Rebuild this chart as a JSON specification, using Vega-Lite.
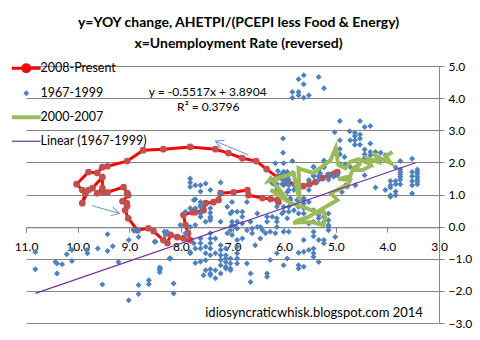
{
  "$schema": "https://vega.github.io/schema/vega-lite/v6.json",
  "width": 413,
  "height": 257,
  "autosize": {"type": "none"},
  "padding": {"left": 26, "top": 66, "right": 41, "bottom": 17},
  "background": "white",
  "title": {
    "text": ["y=YOY change, AHETPI/(PCEPI less Food & Energy)", "x=Unemployment Rate (reversed)"],
    "font": "Lato", "fontSize": 14, "fontWeight": "bold", "color": "black",
    "anchor": "middle", "frame": "group", "offset": 9, "dx": 6, "lineHeight": 21
  },
  "config": {
    "view": {"stroke": null},
    "font": "Lato",
    "axis": {
      "domainColor": "#868686", "tickColor": "#868686", "gridColor": "#868686", "gridOpacity": 1,
      "labelFont": "Lato", "labelFontSize": 12, "labelColor": "black", "tickSize": 5,
      "labelPadding": 4, "labelFlush": false, "labelBound": false, "labelOverlap": false
    }
  },
  "datasets": {
    "red": [
      {"i":1,"u":4.97,"w":1.70,"s":"2008-Present"},{"i":2,"u":5.04,"w":1.64,"s":"2008-Present"},{"i":3,"u":5.14,"w":1.60,"s":"2008-Present"},{"i":4,"u":5.26,"w":1.51,"s":"2008-Present"},{"i":5,"u":5.39,"w":1.39,"s":"2008-Present"},{"i":6,"u":5.51,"w":1.32,"s":"2008-Present"},{"i":7,"u":5.63,"w":1.26,"s":"2008-Present"},{"i":8,"u":5.78,"w":1.32,"s":"2008-Present"},{"i":9,"u":5.94,"w":1.39,"s":"2008-Present"},{"i":10,"u":6.13,"w":1.54,"s":"2008-Present"},
      {"i":11,"u":6.34,"w":1.79,"s":"2008-Present"},{"i":12,"u":6.54,"w":2.04,"s":"2008-Present"},{"i":13,"u":6.81,"w":2.13,"s":"2008-Present"},{"i":14,"u":7.08,"w":2.29,"s":"2008-Present"},{"i":15,"u":7.33,"w":2.41,"s":"2008-Present"},{"i":16,"u":7.82,"w":2.48,"s":"2008-Present"},{"i":17,"u":8.34,"w":2.41,"s":"2008-Present"},{"i":18,"u":8.73,"w":2.38,"s":"2008-Present"},{"i":19,"u":9.04,"w":2.04,"s":"2008-Present"},{"i":20,"u":9.42,"w":1.88,"s":"2008-Present"},
      {"i":21,"u":9.52,"w":1.85,"s":"2008-Present"},{"i":22,"u":9.62,"w":1.67,"s":"2008-Present"},{"i":23,"u":9.79,"w":1.70,"s":"2008-Present"},{"i":24,"u":10.02,"w":1.32,"s":"2008-Present"},{"i":25,"u":9.91,"w":1.14,"s":"2008-Present"},{"i":26,"u":9.85,"w":1.04,"s":"2008-Present"},{"i":27,"u":9.91,"w":0.73,"s":"2008-Present"},{"i":28,"u":9.79,"w":1.14,"s":"2008-Present"},{"i":29,"u":9.71,"w":1.20,"s":"2008-Present"},{"i":30,"u":9.52,"w":1.54,"s":"2008-Present"},
      {"i":31,"u":9.52,"w":1.20,"s":"2008-Present"},{"i":32,"u":9.62,"w":1.04,"s":"2008-Present"},{"i":33,"u":9.50,"w":1.07,"s":"2008-Present"},{"i":34,"u":9.42,"w":1.07,"s":"2008-Present"},{"i":35,"u":9.11,"w":1.23,"s":"2008-Present"},{"i":36,"u":9.04,"w":1.04,"s":"2008-Present"},{"i":37,"u":9.02,"w":0.98,"s":"2008-Present"},{"i":38,"u":9.13,"w":0.79,"s":"2008-Present"},{"i":39,"u":9.05,"w":0.73,"s":"2008-Present"},{"i":40,"u":9.04,"w":0.64,"s":"2008-Present"},
      {"i":41,"u":9.08,"w":0.51,"s":"2008-Present"},{"i":42,"u":9.02,"w":0.26,"s":"2008-Present"},{"i":43,"u":8.84,"w":-0.11,"s":"2008-Present"},{"i":44,"u":8.63,"w":-0.05,"s":"2008-Present"},{"i":45,"u":8.53,"w":-0.14,"s":"2008-Present"},{"i":46,"u":8.34,"w":-0.42,"s":"2008-Present"},{"i":47,"u":8.26,"w":-0.51,"s":"2008-Present"},{"i":48,"u":8.20,"w":-0.26,"s":"2008-Present"},{"i":49,"u":8.07,"w":-0.33,"s":"2008-Present"},{"i":50,"u":7.95,"w":-0.36,"s":"2008-Present"},
      {"i":51,"u":7.82,"w":-0.42,"s":"2008-Present"},{"i":52,"u":7.86,"w":-0.20,"s":"2008-Present"},{"i":53,"u":7.91,"w":0.05,"s":"2008-Present"},{"i":54,"u":7.95,"w":0.36,"s":"2008-Present"},{"i":55,"u":7.77,"w":0.45,"s":"2008-Present"},{"i":56,"u":7.72,"w":0.45,"s":"2008-Present"},{"i":57,"u":7.56,"w":0.51,"s":"2008-Present"},{"i":58,"u":7.52,"w":0.73,"s":"2008-Present"},{"i":59,"u":7.37,"w":0.76,"s":"2008-Present"},{"i":60,"u":7.27,"w":0.83,"s":"2008-Present"},
      {"i":61,"u":7.23,"w":1.04,"s":"2008-Present"},{"i":62,"u":6.98,"w":1.07,"s":"2008-Present"},{"i":63,"u":6.71,"w":1.14,"s":"2008-Present"},{"i":64,"u":6.69,"w":0.98,"s":"2008-Present"},{"i":65,"u":6.42,"w":0.89,"s":"2008-Present"},{"i":66,"u":6.26,"w":0.86,"s":"2008-Present"},{"i":67,"u":6.13,"w":0.83,"s":"2008-Present"},{"i":68,"u":6.11,"w":0.76,"s":"2008-Present"}
    ],
    "green": [
      {"i":1,"u":3.90,"w":2.32},{"i":2,"u":4.03,"w":2.20},{"i":3,"u":3.94,"w":1.98},{"i":4,"u":4.13,"w":2.13},{"i":5,"u":4.23,"w":2.23},{"i":6,"u":4.17,"w":2.01},{"i":7,"u":4.39,"w":2.13},{"i":8,"u":4.33,"w":1.95},{"i":9,"u":4.56,"w":2.10},{"i":10,"u":4.72,"w":2.01},
      {"i":11,"u":4.81,"w":1.82},{"i":12,"u":4.95,"w":1.92},{"i":13,"u":5.00,"w":2.45},{"i":14,"u":5.10,"w":2.07},{"i":15,"u":5.43,"w":1.67},{"i":16,"u":5.68,"w":1.79},{"i":17,"u":5.72,"w":1.82},{"i":18,"u":5.70,"w":0.83},{"i":19,"u":5.82,"w":1.67},{"i":20,"u":6.30,"w":1.42},
      {"i":21,"u":6.26,"w":1.51},{"i":22,"u":6.01,"w":0.98},{"i":23,"u":6.26,"w":1.14},{"i":24,"u":5.87,"w":0.73},{"i":25,"u":5.62,"w":0.61},{"i":26,"u":5.35,"w":0.42},{"i":27,"u":5.24,"w":0.51},{"i":28,"u":5.20,"w":0.26},{"i":29,"u":5.24,"w":0.05},{"i":30,"u":5.45,"w":0.14},
      {"i":31,"u":5.64,"w":0.14},{"i":32,"u":5.82,"w":0.11},{"i":33,"u":5.72,"w":0.20},{"i":34,"u":5.53,"w":0.30},{"i":35,"u":4.97,"w":0.83},{"i":36,"u":5.10,"w":1.04},{"i":37,"u":4.77,"w":1.29},{"i":38,"u":4.72,"w":1.45},{"i":39,"u":4.95,"w":1.48},{"i":40,"u":4.72,"w":1.57},
      {"i":41,"u":4.66,"w":1.82},{"i":42,"u":4.52,"w":1.98},{"i":43,"u":4.62,"w":1.76},{"i":44,"u":4.48,"w":1.76},{"i":45,"u":4.29,"w":1.92}
    ],
    "blue": [
      {"u":5.84,"w":4.19},{"u":5.84,"w":4.01},{"u":5.72,"w":4.19},{"u":5.72,"w":4.09},{"u":5.72,"w":4.59},{"u":5.62,"w":4.71},{"u":5.62,"w":4.43},{"u":5.62,"w":4.01},{"u":5.52,"w":4.09},{"u":5.33,"w":4.66},{"u":5.23,"w":4.31},
      {"u":4.92,"w":3.29},{"u":4.53,"w":3.29},{"u":4.44,"w":3.10},{"u":4.33,"w":3.13},{"u":5.02,"w":2.94},{"u":4.73,"w":2.97},{"u":4.63,"w":2.92},{"u":4.53,"w":2.87},{"u":4.63,"w":2.82},{"u":4.53,"w":2.74},{"u":4.72,"w":2.69},{"u":4.63,"w":2.69},{"u":4.63,"w":2.55},{"u":4.53,"w":2.55},{"u":4.92,"w":2.69},{"u":4.33,"w":2.59},{"u":4.92,"w":2.42},{"u":4.44,"w":2.40},{"u":6.02,"w":2.74},{"u":6.02,"w":2.30},{"u":5.02,"w":2.30},{"u":4.83,"w":2.17},{"u":4.44,"w":2.25},{"u":4.44,"w":2.14},{"u":4.33,"w":2.32},{"u":4.23,"w":2.32},{"u":4.13,"w":2.30},{"u":4.33,"w":2.22},{"u":4.23,"w":2.22},{"u":4.04,"w":2.22},{"u":4.13,"w":2.09},{"u":3.52,"w":2.11},{"u":3.75,"w":2.04},{"u":4.92,"w":2.25},{"u":4.81,"w":1.94},{"u":4.92,"w":1.94},{"u":5.23,"w":2.06},{"u":5.84,"w":2.04},{"u":5.43,"w":1.85},{"u":5.33,"w":1.76},{"u":5.23,"w":1.85},{"u":3.84,"w":1.85},{"u":3.75,"w":1.78},{"u":3.75,"w":1.63},{"u":3.75,"w":1.47},{"u":3.75,"w":1.32},{"u":3.52,"w":1.70},{"u":3.52,"w":1.57},{"u":3.52,"w":1.42},{"u":3.42,"w":1.78},{"u":3.42,"w":1.63},{"u":3.42,"w":1.47},{"u":3.42,"w":1.32},{"u":3.94,"w":1.42},{"u":3.84,"w":1.42},{"u":3.84,"w":1.32},{"u":6.12,"w":1.73},{"u":6.02,"w":1.66},{"u":5.93,"w":1.66},{"u":5.93,"w":1.49},{"u":5.93,"w":1.37},{"u":6.02,"w":1.47},{"u":5.83,"w":1.66},{"u":5.43,"w":1.57},{"u":5.14,"w":1.63},{"u":5.14,"w":1.47},{"u":5.33,"w":1.57},
      {"u":3.52,"w":1.29},{"u":3.52,"w":1.03},{"u":3.42,"w":1.70},{"u":3.42,"w":1.55},{"u":3.42,"w":1.40},{"u":3.75,"w":1.70},{"u":3.75,"w":1.55},{"u":3.84,"w":1.09},{"u":3.84,"w":0.98},{"u":3.94,"w":0.93},{"u":4.04,"w":1.14},{"u":4.23,"w":1.22},{"u":4.44,"w":1.60},{"u":4.62,"w":1.29},{"u":4.81,"w":1.29},{"u":3.94,"w":1.29},{"u":3.94,"w":1.22},
      {"u":6.17,"w":1.97},{"u":6.01,"w":1.97},{"u":6.01,"w":1.71},{"u":6.07,"w":1.60},{"u":5.91,"w":1.60},{"u":6.01,"w":1.45},{"u":5.91,"w":1.45},{"u":6.01,"w":1.29},{"u":5.91,"w":1.29},{"u":5.81,"w":1.29},{"u":5.91,"w":1.14},{"u":5.81,"w":1.14},{"u":6.14,"w":1.14},{"u":6.27,"w":1.45},{"u":6.17,"w":1.29},{"u":5.43,"w":1.86},{"u":5.30,"w":1.66},{"u":5.23,"w":1.86},{"u":5.43,"w":1.60},{"u":5.52,"w":1.45},{"u":5.33,"w":1.45},{"u":5.04,"w":1.55},{"u":4.97,"w":1.60},{"u":4.72,"w":1.86},{"u":5.52,"w":1.14},{"u":4.78,"w":1.24},{"u":4.88,"w":1.08},{"u":5.88,"w":0.88},{"u":5.75,"w":0.83},{"u":5.62,"w":0.88},{"u":5.62,"w":0.72},{"u":5.72,"w":0.62},{"u":5.62,"w":0.57},{"u":5.81,"w":0.51},{"u":5.91,"w":0.62},{"u":6.01,"w":0.62},{"u":6.14,"w":0.62},{"u":6.01,"w":0.46},{"u":5.91,"w":0.46},{"u":5.72,"w":0.41},{"u":5.62,"w":0.41},{"u":5.43,"w":0.51},{"u":5.33,"w":0.36},{"u":5.33,"w":0.26},{"u":5.33,"w":0.10},{"u":5.23,"w":0.31},{"u":5.14,"w":0.41},{"u":5.14,"w":0.20},{"u":5.14,"w":0.05},{"u":5.23,"w":0.15},{"u":5.52,"w":0.10},{"u":5.43,"w":-0.16},{"u":5.43,"w":-0.30},{"u":5.33,"w":-0.42},{"u":5.23,"w":-0.42},{"u":5.23,"w":-0.52},{"u":5.43,"w":-0.68},{"u":5.43,"w":-0.83},{"u":5.43,"w":-0.94},{"u":5.52,"w":-0.73},{"u":5.62,"w":-0.78},{"u":5.72,"w":-0.81},{"u":5.33,"w":-1.10},{"u":5.62,"w":-0.42},{"u":5.94,"w":-0.99},{"u":6.14,"w":-0.83},{"u":6.01,"w":-1.20},{"u":5.72,"w":-1.20},{"u":5.72,"w":-1.30},{"u":5.62,"w":-1.25},{"u":6.01,"w":-0.16},{"u":5.91,"w":-0.16},{"u":6.27,"w":-0.16},{"u":5.43,"w":0.15},
      {"u":5.14,"w":-0.11},{"u":5.14,"w":-0.01},{"u":5.01,"w":-0.32},{"u":3.94,"w":0.98},{"u":6.14,"w":1.33},{"u":6.04,"w":1.33},{"u":5.94,"w":1.71},{"u":5.94,"w":1.08},{"u":5.84,"w":1.66},{"u":6.14,"w":1.08},{"u":6.23,"w":1.35},{"u":5.88,"w":0.83},{"u":5.72,"w":0.83},{"u":5.62,"w":0.83},{"u":5.52,"w":0.77},
      {"u":7.82,"w":1.50},{"u":7.82,"w":1.37},{"u":7.82,"w":1.24},{"u":7.72,"w":1.29},{"u":7.62,"w":1.29},{"u":7.52,"w":1.34},{"u":7.23,"w":1.37},{"u":7.43,"w":1.14},{"u":7.72,"w":0.85},{"u":7.62,"w":0.62},{"u":7.82,"w":0.57},{"u":7.43,"w":0.43},{"u":7.62,"w":0.31},{"u":7.43,"w":0.31},{"u":7.52,"w":0.15},{"u":7.23,"w":0.15},{"u":7.10,"w":0.62},{"u":7.01,"w":0.77},{"u":7.01,"w":0.46},{"u":6.91,"w":0.46},{"u":6.81,"w":0.46},{"u":6.81,"w":0.31},{"u":7.01,"w":0.15},{"u":6.91,"w":0.15},{"u":6.72,"w":0.77},{"u":6.65,"w":0.15},{"u":6.52,"w":0.41},{"u":6.52,"w":-0.01},{"u":6.62,"w":-0.06},{"u":6.33,"w":0.31},{"u":6.33,"w":0.15},{"u":6.23,"w":0.31},{"u":6.14,"w":0.26},{"u":6.14,"w":0.15},{"u":6.04,"w":0.41},{"u":5.94,"w":0.26},{"u":6.81,"w":0.10},{"u":6.42,"w":-0.11},{"u":7.72,"w":0.05},{"u":7.43,"w":0.20},{"u":7.62,"w":1.09},{"u":7.62,"w":0.77},{"u":7.23,"w":1.03},
      {"u":7.82,"w":-0.01},{"u":7.62,"w":-0.37},{"u":7.75,"w":-0.52},{"u":7.82,"w":-0.83},{"u":7.62,"w":-0.68},{"u":7.52,"w":-0.83},{"u":7.43,"w":-0.21},{"u":7.43,"w":-0.37},{"u":7.43,"w":-0.52},{"u":7.33,"w":-0.37},{"u":7.43,"w":-0.68},{"u":7.33,"w":-0.83},{"u":7.23,"w":-0.58},{"u":7.23,"w":-0.73},{"u":7.23,"w":-0.89},{"u":7.23,"w":-1.04},{"u":7.13,"w":-0.68},{"u":7.13,"w":-0.99},{"u":7.13,"w":-1.10},{"u":7.04,"w":-1.15},{"u":7.04,"w":-1.30},{"u":7.13,"w":-1.30},{"u":7.23,"w":-1.46},{"u":7.43,"w":-1.33},{"u":7.43,"w":-1.46},{"u":7.56,"w":-1.51},{"u":6.91,"w":-1.15},{"u":6.91,"w":-0.99},{"u":6.91,"w":-0.83},{"u":6.91,"w":-0.63},{"u":6.91,"w":-0.42},{"u":7.01,"w":-0.26},{"u":7.10,"w":-0.21},{"u":6.72,"w":-1.15},{"u":6.65,"w":-1.46},{"u":6.65,"w":-1.72},{"u":6.91,"w":-0.06},{"u":7.01,"w":0.05},{"u":6.81,"w":-0.37},{"u":6.62,"w":-0.21},{"u":6.56,"w":-0.58},{"u":6.46,"w":-0.37},{"u":6.36,"w":-0.21},{"u":6.33,"w":-1.46},{"u":6.33,"w":-1.56},{"u":6.27,"w":-1.04},{"u":6.17,"w":-0.21},{"u":6.14,"w":-0.01},{"u":8.14,"w":-1.77},{"u":8.14,"w":-2.08},{"u":8.20,"w":-0.99},{"u":8.40,"w":-1.30},{"u":6.72,"w":-0.11},{"u":6.46,"w":-0.01},
      {"u":10.82,"w":-0.79},{"u":10.82,"w":-1.33},{"u":10.43,"w":-1.10},{"u":10.40,"w":-1.15},{"u":10.30,"w":-1.17},{"u":10.40,"w":-1.46},{"u":10.21,"w":-0.86},{"u":10.11,"w":-0.73},{"u":10.11,"w":-1.07},{"u":9.82,"w":-0.73},{"u":9.81,"w":-0.83},{"u":9.61,"w":-0.68},{"u":9.52,"w":-1.80},{"u":9.42,"w":-0.76},{"u":9.42,"w":-0.24},{"u":9.32,"w":-0.61},{"u":9.21,"w":-1.10},{"u":9.01,"w":-2.29},{"u":8.82,"w":-1.82},{"u":8.82,"w":-2.10},{"u":8.62,"w":-1.67},{"u":8.62,"w":-1.79},{"u":8.91,"w":-0.13},{"u":8.82,"w":-0.32},{"u":8.51,"w":-0.47},{"u":8.41,"w":-1.27},{"u":8.41,"w":-1.35},{"u":8.32,"w":-0.16},{"u":8.22,"w":-0.99},{"u":8.01,"w":0.05},{"u":7.91,"w":-0.21},{"u":7.82,"w":-0.79},{"u":7.72,"w":-0.68},{"u":7.72,"w":-1.13},{"u":7.62,"w":-0.52},{"u":7.62,"w":-1.09},{"u":7.52,"w":-0.63},{"u":7.52,"w":-1.05},{"u":7.43,"w":-0.89},{"u":7.33,"w":-1.36},{"u":7.23,"w":-1.20},{"u":7.13,"w":-0.89},{"u":7.13,"w":-1.25},{"u":7.04,"w":-0.99},{"u":7.04,"w":-1.36},{"u":7.52,"w":-1.36},{"u":7.43,"w":-1.51},{"u":7.33,"w":-1.61},{"u":7.04,"w":0.41},{"u":7.43,"w":0.26},{"u":7.62,"w":0.41},{"u":7.72,"w":0.57},{"u":7.75,"w":0.83},{"u":7.62,"w":0.67},{"u":7.43,"w":0.57},{"u":7.04,"w":-0.11},{"u":6.94,"w":-0.01},{"u":7.91,"w":0.46},
      {"u":9.01,"w":-0.42},{"u":8.41,"w":-1.42},{"u":8.30,"w":-0.26},{"u":8.91,"w":-0.09},{"u":8.82,"w":-0.11},{"u":8.49,"w":-0.47},{"u":8.27,"w":-0.16}
    ],
    "trend": [{"u":10.82,"w":-2.079},{"u":3.45,"w":1.987}],
    "arrows": [{"id":1,"u":6.69,"w":2.23,"u2":7.33,"w2":2.66},{"id":2,"u":9.72,"w":0.65,"u2":9.19,"w2":0.41}],
    "heads": [{"id":1,"u":7.33,"w":2.66},{"id":2,"u":9.19,"w":0.41}],
    "eq": [{"u":7.48,"w":4.20,"t":"y = -0.5517x + 3.8904"},{"u":7.47,"w":3.71,"t":"R² = 0.3796"}],
    "mark": [{"u":5.42,"w":-2.70,"t":"idiosyncraticwhisk.blogspot.com 2014"}]
  },
  "encoding": {
    "x": {"field": "u", "type": "quantitative",
          "scale": {"domain": [3, 11], "reverse": true, "nice": false, "zero": false},
          "axis": {"title": null, "values": [3,4,5,6,7,8,9,10,11], "format": ".1f", "grid": false, "offset": -95.7, "labelPadding": 9, "labelOverlap": false}},
    "y": {"field": "w", "type": "quantitative",
          "scale": {"domain": [-3, 5], "nice": false, "zero": false},
          "axis": {"title": null, "orient": "right", "values": [-3,-2,-1,0,1,2,3,4,5], "format": ".1f", "grid": true, "labelOverlap": false}}
  },
  "layer": [
    {
      "data": {"name": "red"},
      "mark": {"type": "line", "strokeWidth": 3},
      "encoding": {
        "order": {"field": "i"},
        "color": {"field": "s", "type": "nominal",
          "scale": {"domain": ["2008-Present", "1967-1999", "2000-2007", "Linear (1967-1999)"],
                    "range": ["#FF0000", "#4F81BD", "#9BBB59", "#7030A0"]},
          "legend": {
            "title": null, "orient": "none", "legendX": -6, "legendY": -4, "padding": 0,
            "symbolSize": 576, "rowPadding": 9, "labelOffset": 8,
            "labelFont": "Lato", "labelFontSize": 12.5, "labelColor": "black",
            "encode": {"symbols": {"update": {
              "shape": {"signal": "datum.value === '1967-1999' ? 'diamond' : datum.value === '2008-Present' ? 'M-1.2,0H1.2M-0.3,0A0.3,0.3,0,1,0,0.3,0A0.3,0.3,0,1,0,-0.3,0' : 'M-1.2,0H1.2'"},
              "fill": {"signal": "datum.value === '1967-1999' ? '#4F81BD' : datum.value === '2008-Present' ? '#C0504D' : 'transparent'"},
              "stroke": {"signal": "datum.value === '1967-1999' ? 'transparent' : datum.value === '2008-Present' ? '#FF0000' : datum.value === '2000-2007' ? '#9BBB59' : '#7030A0'"},
              "strokeWidth": {"signal": "datum.value === '2008-Present' ? 3 : datum.value === '2000-2007' ? 4 : datum.value === '1967-1999' ? 0 : 1.2"},
              "size": {"signal": "datum.value === '1967-1999' ? 34 : 576"},
              "opacity": {"value": 1}, "fillOpacity": {"value": 1}, "strokeOpacity": {"value": 1}
            }}}
          }}
      }
    },
    {
      "data": {"name": "red"},
      "mark": {"type": "point", "filled": true, "size": 45, "color": "#C0504D", "opacity": 1}
    },
    {
      "data": {"name": "blue"},
      "mark": {"type": "point", "shape": "diamond", "filled": true, "size": 36, "color": "#4F81BD", "opacity": 1}
    },
    {
      "data": {"name": "green"},
      "mark": {"type": "line", "strokeWidth": 4, "color": "#9BBB59"},
      "encoding": {"order": {"field": "i"}}
    },
    {
      "data": {"name": "trend"},
      "mark": {"type": "line", "strokeWidth": 1.2, "color": "#7030A0"},
      "encoding": {}
    },
    {
      "data": {"name": "arrows"},
      "mark": {"type": "rule", "color": "#6A93CF", "strokeWidth": 1},
      "encoding": {"x2": {"field": "u2"}, "y2": {"field": "w2"}}
    },
    {
      "data": {"name": "heads"},
      "transform": [{"filter": "datum.id === 1"}],
      "mark": {"type": "point", "shape": "M-1,-0.55L0,0L-1,0.55", "filled": false, "size": 256, "angle": 203, "color": "#6A93CF", "strokeWidth": 1, "opacity": 1}
    },
    {
      "data": {"name": "heads"},
      "transform": [{"filter": "datum.id === 2"}],
      "mark": {"type": "point", "shape": "M-1,-0.55L0,0L-1,0.55", "filled": false, "size": 256, "angle": 15, "color": "#6A93CF", "strokeWidth": 1, "opacity": 1}
    },
    {
      "data": {"name": "eq"},
      "mark": {"type": "text", "font": "Lato", "fontSize": 12, "color": "black", "align": "center", "baseline": "middle"},
      "encoding": {"text": {"field": "t"}}
    },
    {
      "data": {"name": "mark"},
      "mark": {"type": "text", "font": "Lato", "fontSize": 13, "color": "black", "align": "center", "baseline": "middle"},
      "encoding": {"text": {"field": "t"}}
    }
  ]
}
